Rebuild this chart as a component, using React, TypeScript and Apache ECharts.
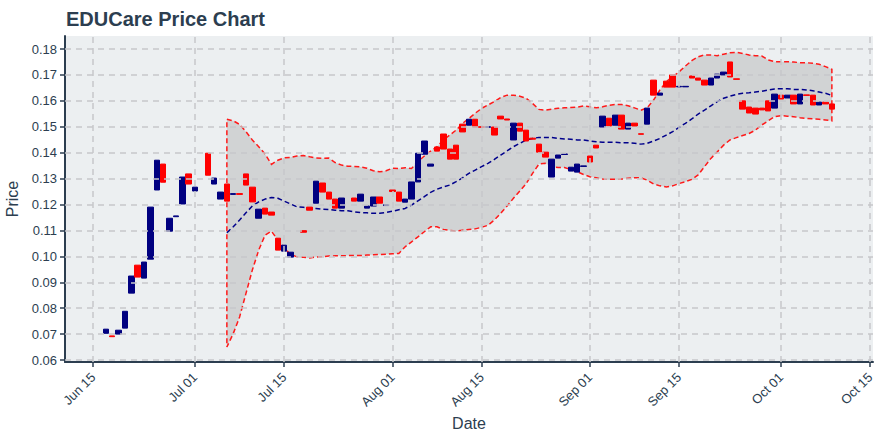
import React, { useEffect, useRef } from 'react';
import * as echarts from 'echarts';

const YEAR = 2023;

// Candles (daily open / close, no visible wicks)
const candleDates = [
  '06-17', '06-18', '06-19', '06-20', '06-21', '06-22', '06-23', '06-24', '06-25', '06-26',
  '06-27', '06-28', '06-29', '06-30', '07-01', '07-03', '07-04', '07-05', '07-06', '07-07',
  '07-08', '07-09', '07-10', '07-11', '07-12', '07-13', '07-14', '07-15', '07-16', '07-18',
  '07-19', '07-20', '07-21', '07-22', '07-23', '07-24', '07-26', '07-27', '07-28', '07-29',
  '07-30', '07-31', '08-01', '08-02', '08-03', '08-04', '08-05', '08-06', '08-07', '08-08',
  '08-09', '08-10', '08-11', '08-12', '08-13', '08-14', '08-15', '08-16', '08-17', '08-18',
  '08-19', '08-20', '08-21', '08-22', '08-23', '08-24', '08-25', '08-26', '08-27', '08-28',
  '08-29', '08-30', '08-31', '09-01', '09-02', '09-03', '09-04', '09-05', '09-06', '09-07',
  '09-08', '09-09', '09-10', '09-11', '09-12', '09-13', '09-14', '09-15', '09-16', '09-17',
  '09-18', '09-19', '09-20', '09-21', '09-22', '09-23', '09-24', '09-25', '09-26', '09-27',
  '09-28', '09-29', '09-30', '10-01', '10-02', '10-03', '10-04', '10-05', '10-06', '10-07',
  '10-08', '10-09',
];
const opens = [
  0.0703, 0.0693, 0.0700, 0.0723, 0.0858, 0.0966, 0.0916, 0.0989, 0.1256, 0.1356,
  0.1097, 0.1153, 0.1202, 0.1318, 0.1252, 0.1398, 0.1279, 0.1221, 0.1279, 0.1239,
  0.1242, 0.1318, 0.1267, 0.1147, 0.1186, 0.1171, 0.1070, 0.1020, 0.0997, 0.1099,
  0.1190, 0.1205, 0.1283, 0.1248, 0.1221, 0.1186, 0.1225, 0.1213, 0.1186, 0.1194,
  0.1229, 0.1196, 0.1256, 0.1248, 0.1209, 0.1221, 0.1287, 0.1394, 0.1348, 0.1422,
  0.1472, 0.1414, 0.1429, 0.1510, 0.1506, 0.1529, 0.1500, 0.1498, 0.1499, 0.1541,
  0.1530, 0.1449, 0.1514, 0.1487, 0.1456, 0.1433, 0.1402, 0.1306, 0.1379, 0.1393,
  0.1329, 0.1325, 0.1347, 0.1387, 0.1429, 0.1499, 0.1533, 0.1506, 0.1545, 0.1491,
  0.1514, 0.1473, 0.1510, 0.1680, 0.1622, 0.1676, 0.1700, 0.1654, 0.1654, 0.1696,
  0.1688, 0.1680, 0.1661, 0.1688, 0.1700, 0.1750, 0.1685, 0.1600, 0.1576, 0.1572,
  0.1572, 0.1600, 0.1572, 0.1622, 0.1611, 0.1622, 0.1588, 0.1623, 0.1622, 0.1584,
  0.1595, 0.1588,
];
const closes = [
  0.0719, 0.0690, 0.0715, 0.0788, 0.0924, 0.0920, 0.0978, 0.1190, 0.1371, 0.1286,
  0.1147, 0.1156, 0.1306, 0.1279, 0.1267, 0.1313, 0.1302, 0.1248, 0.1213, 0.1242,
  0.1239, 0.1275, 0.1210, 0.1182, 0.1163, 0.1159, 0.1024, 0.1043, 0.1016, 0.1093,
  0.1178, 0.1290, 0.1248, 0.1221, 0.1186, 0.1225, 0.1213, 0.1240, 0.1194, 0.1229,
  0.1205, 0.1199, 0.1250, 0.1213, 0.1221, 0.1287, 0.1398, 0.1445, 0.1356, 0.1406,
  0.1414, 0.1375, 0.1375, 0.1480, 0.1529, 0.1499, 0.1498, 0.1500, 0.1468, 0.1530,
  0.1526, 0.1514, 0.1483, 0.1445, 0.1452, 0.1402, 0.1383, 0.1375, 0.1391, 0.1395,
  0.1344, 0.1356, 0.1349, 0.1364, 0.1418, 0.1541, 0.1503, 0.1545, 0.1491, 0.1514,
  0.1503, 0.1471, 0.1572, 0.1622, 0.1630, 0.1653, 0.1653, 0.1656, 0.1656, 0.1688,
  0.1680, 0.1661, 0.1688, 0.1703, 0.1711, 0.1692, 0.1683, 0.1568, 0.1553, 0.1549,
  0.1565, 0.1561, 0.1626, 0.1607, 0.1622, 0.1588, 0.1626, 0.1621, 0.1584, 0.1595,
  0.1588, 0.1568,
];

// Bollinger band
const bandDates = [
  '07-06', '07-07', '07-08', '07-09', '07-10', '07-11', '07-12', '07-13', '07-14', '07-15',
  '07-16', '07-17', '07-18', '07-19', '07-20', '07-21', '07-22', '07-23', '07-24', '07-25',
  '07-26', '07-27', '07-28', '07-29', '07-30', '07-31', '08-01', '08-02', '08-03', '08-04',
  '08-05', '08-06', '08-07', '08-08', '08-09', '08-10', '08-11', '08-12', '08-13', '08-14',
  '08-15', '08-16', '08-17', '08-18', '08-19', '08-20', '08-21', '08-22', '08-23', '08-24',
  '08-25', '08-26', '08-27', '08-28', '08-29', '08-30', '08-31', '09-01', '09-02', '09-03',
  '09-04', '09-05', '09-06', '09-07', '09-08', '09-09', '09-10', '09-11', '09-12', '09-13',
  '09-14', '09-15', '09-16', '09-17', '09-18', '09-19', '09-20', '09-21', '09-22', '09-23',
  '09-24', '09-25', '09-26', '09-27', '09-28', '09-29', '09-30', '10-01', '10-02', '10-03',
  '10-04', '10-05', '10-06', '10-07', '10-08', '10-09',
];
const upperBand = [
  0.1529, 0.1523, 0.1509, 0.1481, 0.1449, 0.1423, 0.1395, 0.1355, 0.1371, 0.1380,
  0.1382, 0.1387, 0.1389, 0.1384, 0.1380, 0.1378, 0.1379, 0.1362, 0.1352, 0.1348,
  0.1347, 0.1345, 0.1340, 0.1330, 0.1326, 0.1330, 0.1340, 0.1339, 0.1342, 0.1339,
  0.1365, 0.1387, 0.1406, 0.1423, 0.1449, 0.1468, 0.1487, 0.1513, 0.1532, 0.1552,
  0.1571, 0.1584, 0.1597, 0.1613, 0.1622, 0.1622, 0.1618, 0.1610, 0.1590, 0.1567,
  0.1564, 0.1568, 0.1571, 0.1573, 0.1574, 0.1576, 0.1580, 0.1577, 0.1573, 0.1577,
  0.1583, 0.1586, 0.1586, 0.1581, 0.1573, 0.1564, 0.1573, 0.1603, 0.1642, 0.1674,
  0.1693, 0.1712, 0.1734, 0.1755, 0.1770, 0.1777, 0.1777, 0.1774, 0.1780, 0.1786,
  0.1787, 0.1783, 0.1777, 0.1774, 0.1773, 0.1758, 0.1751, 0.1751, 0.1751, 0.1750,
  0.1747, 0.1747, 0.1745, 0.1741, 0.1732, 0.1722,
];
const middleBand = [
  0.1091, 0.1114, 0.1140, 0.1168, 0.1194, 0.1210, 0.1221, 0.1227, 0.1224, 0.1213,
  0.1202, 0.1191, 0.1189, 0.1185, 0.1185, 0.1182, 0.1181, 0.1178, 0.1176, 0.1176,
  0.1172, 0.1169, 0.1168, 0.1166, 0.1166, 0.1169, 0.1174, 0.1180, 0.1185, 0.1198,
  0.1214, 0.1230, 0.1247, 0.1259, 0.1268, 0.1275, 0.1288, 0.1303, 0.1320, 0.1333,
  0.1346, 0.1359, 0.1374, 0.1391, 0.1407, 0.1423, 0.1436, 0.1449, 0.1455, 0.1459,
  0.1459, 0.1459, 0.1455, 0.1453, 0.1452, 0.1449, 0.1449, 0.1445, 0.1442, 0.1440,
  0.1440, 0.1440, 0.1438, 0.1438, 0.1436, 0.1433, 0.1436, 0.1445, 0.1455, 0.1468,
  0.1481, 0.1498, 0.1513, 0.1530, 0.1549, 0.1564, 0.1581, 0.1597, 0.1610, 0.1618,
  0.1625, 0.1629, 0.1631, 0.1634, 0.1637, 0.1642, 0.1646, 0.1647, 0.1647, 0.1644,
  0.1644, 0.1642, 0.1639, 0.1634, 0.1629, 0.1621,
];
const lowerBand = [
  0.0650, 0.0702, 0.0766, 0.0857, 0.0947, 0.1024, 0.1082, 0.1097, 0.1063, 0.1031,
  0.1008, 0.0998, 0.0996, 0.0994, 0.0997, 0.0998, 0.1001, 0.1002, 0.1002, 0.1003,
  0.1003, 0.1003, 0.1005, 0.1006, 0.1007, 0.1008, 0.1010, 0.1011, 0.1037, 0.1056,
  0.1075, 0.1095, 0.1114, 0.1114, 0.1104, 0.1100, 0.1098, 0.1101, 0.1104, 0.1106,
  0.1112, 0.1120, 0.1140, 0.1166, 0.1194, 0.1224, 0.1252, 0.1281, 0.1320, 0.1356,
  0.1359, 0.1346, 0.1343, 0.1343, 0.1335, 0.1327, 0.1316, 0.1307, 0.1303, 0.1298,
  0.1297, 0.1297, 0.1298, 0.1301, 0.1303, 0.1303, 0.1294, 0.1279, 0.1272, 0.1268,
  0.1272, 0.1281, 0.1288, 0.1297, 0.1314, 0.1346, 0.1378, 0.1403, 0.1429, 0.1449,
  0.1458, 0.1466, 0.1474, 0.1487, 0.1507, 0.1523, 0.1539, 0.1543, 0.1541, 0.1539,
  0.1535, 0.1532, 0.1531, 0.1529, 0.1526, 0.1523,
];

const xTicks = ['06-15', '07-01', '07-15', '08-01', '08-15', '09-01', '09-15', '10-01', '10-15'];
const yTicks = [0.06, 0.07, 0.08, 0.09, 0.1, 0.11, 0.12, 0.13, 0.14, 0.15, 0.16, 0.17, 0.18];
const MONTHS = ['Jan', 'Feb', 'Mar', 'Apr', 'May', 'Jun', 'Jul', 'Aug', 'Sep', 'Oct', 'Nov', 'Dec'];

const ts = (md: string) => {
  const [m, d] = md.split('-').map(Number);
  return new Date(YEAR, m - 1, d).getTime();
};

const TEXT = '#2c3e50';
const AXIS = '#2c3e50';
const GRID = '#c6c8ca';
const UP = '#000080';
const DOWN = '#ff0000';
const FONT = '"Liberation Sans", Arial, Helvetica, sans-serif';

export default function App() {
  const ref = useRef<HTMLDivElement>(null);

  useEffect(() => {
    if (!ref.current) return;
    const chart = echarts.init(ref.current, undefined, { renderer: 'svg' });

    const xTickTs = xTicks.map(ts);
    const candleData = candleDates.map((d, i) => [
      ts(d),
      opens[i],
      closes[i],
      Math.min(opens[i], closes[i]),
      Math.max(opens[i], closes[i]),
    ]);
    const middleData = bandDates.map((d, i) => [ts(d), middleBand[i]]);

    const option: any = {
      animation: false,
      backgroundColor: '#ffffff',
      textStyle: { fontFamily: FONT },
      title: {
        text: 'EDUCare Price Chart',
        left: 61,
        top: 4,
        textStyle: { fontSize: 20, fontWeight: 'bold', color: TEXT, fontFamily: FONT },
      },
      grid: {
        left: 65,
        right: 7,
        top: 36,
        bottom: 78,
        show: true,
        backgroundColor: '#eceff1',
        borderWidth: 0,
        outerBoundsMode: 'none',
        containLabel: false,
      },
      xAxis: {
        type: 'value',
        scale: true,
        min: new Date(YEAR, 5, 10, 14).getTime(),
        max: new Date(YEAR, 9, 15, 11).getTime(),
        name: 'Date',
        nameLocation: 'middle',
        nameGap: 52,
        nameTextStyle: { fontSize: 16, color: TEXT, fontFamily: FONT },
        axisLine: { show: true, onZero: false, lineStyle: { color: AXIS, width: 2 } },
        axisTick: { show: true, length: 5, lineStyle: { color: AXIS, width: 1.5 }, customValues: xTickTs },
        axisLabel: {
          customValues: xTickTs,
          rotate: 45,
          margin: 13,
          fontSize: 13,
          color: TEXT,
          fontFamily: FONT,
          hideOverlap: false,
          formatter: (v: number) => {
            const d = new Date(v);
            return `${MONTHS[d.getMonth()]} ${String(d.getDate()).padStart(2, '0')}`;
          },
        },
        splitLine: { show: false },
      },
      yAxis: {
        type: 'value',
        scale: true,
        min: 0.05923,
        max: 0.18502,
        name: 'Price',
        nameLocation: 'middle',
        nameGap: 44,
        nameTextStyle: { fontSize: 16, color: TEXT, fontFamily: FONT },
        axisLine: { show: true, onZero: false, lineStyle: { color: AXIS, width: 2 } },
        axisTick: { show: true, length: 5, lineStyle: { color: AXIS, width: 1.5 }, customValues: yTicks },
        axisLabel: {
          customValues: yTicks,
          margin: 8,
          fontSize: 13,
          color: TEXT,
          fontFamily: FONT,
          formatter: (v: number) => v.toFixed(2),
        },
        splitLine: { show: false },
      },
      series: [
        {
          type: 'line',
          data: [[xTickTs[0], yTicks[0]]],
          symbol: 'none',
          showSymbol: false,
          lineStyle: { opacity: 0 },
          z: 1,
          silent: true,
          markLine: {
            silent: true,
            animation: false,
            symbol: ['none', 'none'],
            label: { show: false },
            emphasis: { disabled: true },
            lineStyle: { color: GRID, width: 1.5, type: [6, 5] },
            data: [
              ...xTickTs.map((t) => ({ xAxis: t })),
              ...yTicks.map((v) => ({ yAxis: v })),
            ],
          },
        },
        {
          type: 'custom',
          z: 2,
          silent: true,
          clip: true,
          data: [[ts(bandDates[0]), upperBand[0]]],
          encode: { x: 0, y: 1 },
          renderItem: (_params: any, api: any) => {
            const pts: number[][] = [];
            bandDates.forEach((d, i) => pts.push(api.coord([ts(d), upperBand[i]])));
            for (let i = bandDates.length - 1; i >= 0; i--) {
              pts.push(api.coord([ts(bandDates[i]), lowerBand[i]]));
            }
            pts.push(api.coord([ts(bandDates[0]), upperBand[0]]));
            return {
              type: 'polygon',
              shape: { points: pts },
              style: {
                fill: 'rgba(128,128,128,0.25)',
                stroke: '#ff1a1a',
                lineWidth: 1.5,
                lineDash: [5, 3],
              },
            };
          },
        },
        {
          type: 'line',
          z: 3,
          silent: true,
          data: middleData,
          symbol: 'none',
          showSymbol: false,
          lineStyle: { color: '#00008b', width: 1.5, type: [5, 3] },
        },
        {
          type: 'candlestick',
          z: 4,
          barWidth: 6,
          data: candleData,
          encode: { x: 0, y: [1, 2, 3, 4] },
          itemStyle: {
            color: UP,
            color0: DOWN,
            borderColor: UP,
            borderColor0: DOWN,
            borderWidth: 1,
          },
        },
      ],
    };

    chart.setOption(option);
    return () => chart.dispose();
  }, []);

  return (
    <div
      ref={ref}
      style={{ position: 'fixed', left: 0, top: 0, width: 880, height: 440, background: '#fff' }}
    />
  );
}
